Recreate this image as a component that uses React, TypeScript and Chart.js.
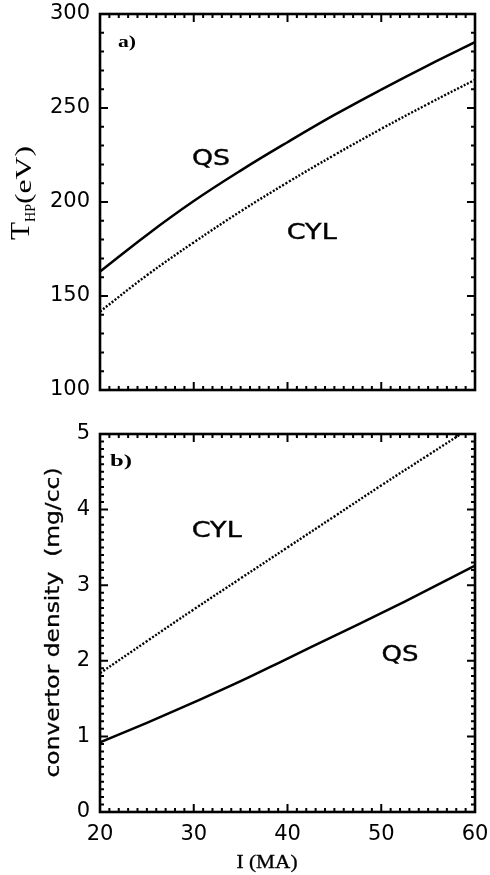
import React, { useEffect, useRef } from "react";
import { Chart, registerables } from "chart.js";
Chart.register(...registerables);

// ---- data ----
const currentMA = [20, 25, 30, 35, 40, 45, 50, 55, 60];
const tempQS = [163, 182.5, 200.5, 216.7, 231.8, 246.3, 259.8, 272.7, 285];
const tempCYL = [141.7, 161, 178.5, 195, 210.4, 225, 238.9, 252.2, 265];
const densQS = [0.92, 1.18, 1.45, 1.73, 2.03, 2.33, 2.63, 2.94, 3.26];
const densCYL = [1.835, 2.26, 2.68, 3.09, 3.5, 3.91, 4.32, 4.72, 5.12];

const xRange = [20, 60];
const tempRange = [100, 300];
const densRange = [0, 5];
const xStep = 10;
const tempStep = 50;
const densStep = 1;

const SANS = "'DejaVu Sans', sans-serif";
const SERIF = "'Liberation Serif', 'Times New Roman', serif";

function pts(xs: number[], ys: number[]) {
  return xs.map((x, i) => ({ x, y: ys[i] }));
}

function stretchText(
  ctx: CanvasRenderingContext2D,
  text: string,
  font: string,
  x: number,
  y: number,
  width: number,
  align: CanvasTextAlign = "center",
  rot = 0,
  heavy = 0
) {
  ctx.save();
  ctx.font = font;
  const w = ctx.measureText(text).width;
  const sx = width / w;
  ctx.translate(x, y);
  if (rot) ctx.rotate(rot);
  ctx.scale(sx, 1);
  ctx.textAlign = align;
  ctx.textBaseline = "alphabetic";
  ctx.fillStyle = "#000";
  ctx.fillText(text, 0, 0);
  if (heavy > 0) {
    ctx.strokeStyle = "#000";
    ctx.lineWidth = heavy;
    ctx.strokeText(text, 0, 0);
  }
  ctx.restore();
}

function framePlugin(
  yMin: number,
  yMax: number,
  yMinorN: number,
  yMajorEvery: number,
  drawTexts: (ctx: CanvasRenderingContext2D) => void
) {
  return {
    id: "frameTicks",
    afterDraw(chart: any) {
      const ctx: CanvasRenderingContext2D = chart.ctx;
      const a = chart.chartArea;
      const xs = chart.scales.x;
      const ys = chart.scales.y;
      ctx.save();
      ctx.strokeStyle = "#000";
      ctx.lineWidth = 2;
      ctx.lineCap = "butt";
      ctx.beginPath();
      const nx = xRange[1] - xRange[0];
      for (let i = 0; i <= nx; i++) {
        const v = xRange[0] + i;
        const px = xs.getPixelForValue(v);
        const len = i % 10 === 0 ? 8 : 4;
        ctx.moveTo(px, a.bottom);
        ctx.lineTo(px, a.bottom - len);
        ctx.moveTo(px, a.top);
        ctx.lineTo(px, a.top + len);
      }
      for (let j = 0; j <= yMinorN; j++) {
        const v = yMin + ((yMax - yMin) * j) / yMinorN;
        const py = ys.getPixelForValue(v);
        const len = j % yMajorEvery === 0 ? 8 : 4;
        ctx.moveTo(a.left, py);
        ctx.lineTo(a.left + len, py);
        ctx.moveTo(a.right, py);
        ctx.lineTo(a.right - len, py);
      }
      ctx.stroke();
      ctx.lineWidth = 2.6;
      ctx.strokeRect(a.left, a.top, a.right - a.left, a.bottom - a.top);
      ctx.restore();
      drawTexts(ctx);
    },
  };
}

function makeConfig(opts: {
  qs: number[];
  cyl: number[];
  yRange: number[];
  yStep: number;
  showX: boolean;
  xH: number;
  padTop: number;
  plugin: any;
}): any {
  const tickFont = { family: SANS, size: 21 };
  return {
    type: "line",
    data: {
      datasets: [
        {
          label: "QS",
          data: pts(currentMA, opts.qs),
          borderColor: "#000",
          borderWidth: 2.5,
          pointRadius: 0,
          tension: 0.4,
          fill: false,
        },
        {
          label: "CYL",
          data: pts(currentMA, opts.cyl),
          borderColor: "#000",
          borderWidth: 2.4,
          borderDash: [2, 1.7],
          pointRadius: 0,
          tension: 0.4,
          fill: false,
        },
      ],
    },
    options: {
      animation: false,
      responsive: false,
      maintainAspectRatio: false,
      devicePixelRatio: 1,
      events: [],
      layout: { padding: { top: opts.padTop, right: 15, left: 0, bottom: 0 } },
      plugins: { legend: { display: false }, tooltip: { enabled: false }, title: { display: false } },
      scales: {
        x: {
          type: "linear",
          min: xRange[0],
          max: xRange[1],
          ticks: {
            stepSize: xStep,
            display: opts.showX,
            color: "#000",
            font: tickFont,
            padding: 10,
            maxRotation: 0,
          },
          grid: { display: false, drawTicks: false },
          border: { display: false },
          afterFit: (s: any) => {
            s.height = opts.xH;
            s.paddingLeft = 0;
            s.paddingRight = 0;
          },
        },
        y: {
          type: "linear",
          min: opts.yRange[0],
          max: opts.yRange[1],
          ticks: { stepSize: opts.yStep, color: "#000", font: tickFont, padding: 10 },
          grid: { display: false, drawTicks: false },
          border: { display: false },
          afterFit: (s: any) => {
            s.width = 100;
            s.paddingTop = 0;
            s.paddingBottom = 0;
          },
        },
      },
    },
    plugins: [opts.plugin],
  };
}

export default function App() {
  const topRef = useRef<HTMLCanvasElement>(null);
  const botRef = useRef<HTMLCanvasElement>(null);

  useEffect(() => {
    const topTexts = (ctx: CanvasRenderingContext2D) => {
      stretchText(ctx, "a)", `bold 17px ${SERIF}`, 118, 47, 18, "left");
      stretchText(ctx, "QS", `22px ${SANS}`, 211, 165, 38, "center", 0, 0.4);
      stretchText(ctx, "CYL", `22px ${SANS}`, 311.7, 239.3, 50, "center", 0, 0.4);
      const R = -Math.PI / 2;
      stretchText(ctx, "T", `27px ${SERIF}`, 29, 240, 18, "left", R);
      stretchText(ctx, "HP", `14px ${SERIF}`, 35, 222, 18, "left", R);
      stretchText(ctx, "(eV)", `24px ${SERIF}`, 31, 204, 58, "left", R);
    };
    const botTexts = (ctx: CanvasRenderingContext2D) => {
      stretchText(ctx, "b)", `bold 17px ${SERIF}`, 110, 56, 22, "left");
      stretchText(ctx, "CYL", `22px ${SANS}`, 216.7, 126.7, 50, "center", 0, 0.4);
      stretchText(ctx, "QS", `22px ${SANS}`, 400, 250.7, 37, "center", 0, 0.4);
      stretchText(
        ctx,
        "convertor density  (mg/cc)",
        `20px ${SANS}`,
        59,
        212.5,
        310,
        "center",
        -Math.PI / 2,
        0.3
      );
      stretchText(ctx, "I (MA)", `19px ${SERIF}`, 267, 458, 61, "center", 0, 0.3);
    };

    const c1 = new Chart(
      topRef.current!,
      makeConfig({
        qs: tempQS,
        cyl: tempCYL,
        yRange: tempRange,
        yStep: tempStep,
        showX: false,
        xH: 20,
        padTop: 14,
        plugin: framePlugin(tempRange[0], tempRange[1], 20, 5, topTexts),
      })
    );
    const c2 = new Chart(
      botRef.current!,
      makeConfig({
        qs: densQS,
        cyl: densCYL,
        yRange: densRange,
        yStep: densStep,
        showX: true,
        xH: 63,
        padTop: 24,
        plugin: framePlugin(densRange[0], densRange[1], 50, 10, botTexts),
      })
    );
    return () => {
      c1.destroy();
      c2.destroy();
    };
  }, []);

  return (
    <div style={{ position: "absolute", left: 0, top: 0, width: 490, height: 875, background: "#fff" }}>
      <canvas ref={topRef} width={490} height={410} style={{ position: "absolute", left: 0, top: 0 }} />
      <canvas ref={botRef} width={490} height={465} style={{ position: "absolute", left: 0, top: 410 }} />
    </div>
  );
}
